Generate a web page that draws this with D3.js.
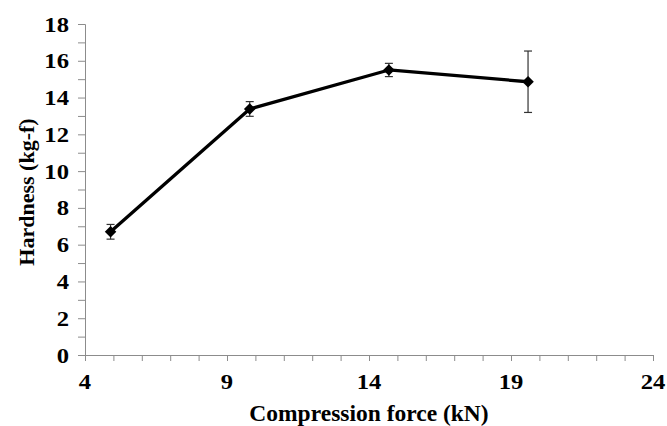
<!DOCTYPE html>
<html>
<head>
<meta charset="utf-8">
<script src="https://cdn.jsdelivr.net/npm/d3@7"></script>
<style>
  body { margin: 0; background: #fff; }
  svg text { font-family: "Liberation Serif", "Times New Roman", serif; font-weight: bold; fill: #000; }
</style>
</head>
<body>
<div id="chart"></div>
<script>
// compression force (kN) and tablet hardness (kg-f) with SD
forces = [4.9, 9.8, 14.7, 19.6]
hardness = [6.7, 13.38, 15.5, 14.86]
errors = [0.4, 0.4, 0.36, 1.67]
xTicks = [4, 9, 14, 19, 24]
yTicks = [0, 2, 4, 6, 8, 10, 12, 14, 16, 18]

const W = 667, H = 426
const margin = { left: 85, right: 14, top: 24, bottom: 71 }

const x = d3.scaleLinear().domain([4, 24]).range([margin.left, W - margin.right])
const y = d3.scaleLinear().domain([0, 18]).range([H - margin.bottom, margin.top])

const svg = d3.select('#chart').append('svg')
  .attr('width', W)
  .attr('height', H)

const axisColor = '#8c8c8c'

// minor ticks every unit on both axes
const xAxis = svg.append('g')
  .attr('transform', `translate(0,${y(0)})`)
  .call(d3.axisBottom(x).tickValues(d3.range(4, 25, 1)).tickSize(6).tickFormat(''))
xAxis.selectAll('path, line').attr('stroke', axisColor)

const yAxis = svg.append('g')
  .attr('transform', `translate(${x(4)},0)`)
  .call(d3.axisLeft(y).tickValues(d3.range(0, 19, 1)).tickSize(7).tickFormat(''))
yAxis.selectAll('path, line').attr('stroke', axisColor)

// tick labels, slightly wide like the original export
svg.append('g').selectAll('text')
  .data(xTicks)
  .enter().append('text')
    .attr('transform', d => `translate(${x(d)},${y(0) + 34}) scale(1.12,1)`)
    .attr('text-anchor', 'middle')
    .attr('font-size', 22)
    .text(d => d)

svg.append('g').selectAll('text')
  .data(yTicks)
  .enter().append('text')
    .attr('transform', d => `translate(${x(4) - 16},${y(d) + 7.5}) scale(1.12,1)`)
    .attr('text-anchor', 'end')
    .attr('font-size', 22)
    .text(d => d)

// axis titles
svg.append('text')
  .attr('x', (x(4) + x(24)) / 2)
  .attr('y', 421)
  .attr('text-anchor', 'middle')
  .attr('font-size', 23.5)
  .text('Compression force (kN)')

svg.append('text')
  .attr('transform', `translate(34,192) rotate(-90)`)
  .attr('text-anchor', 'middle')
  .attr('font-size', 22)
  .text('Hardness (kg-f)')

const data = forces.map((f, i) => ({ f: f, h: hardness[i], e: errors[i] }))

// error bars
const err = svg.append('g').attr('stroke', '#333').attr('stroke-width', 1.2)
err.selectAll('line.v')
  .data(data)
  .enter().append('line')
    .attr('x1', d => x(d.f)).attr('x2', d => x(d.f))
    .attr('y1', d => y(d.h - d.e)).attr('y2', d => y(d.h + d.e))
err.selectAll('line.top')
  .data(data)
  .enter().append('line')
    .attr('x1', d => x(d.f) - 4).attr('x2', d => x(d.f) + 4)
    .attr('y1', d => y(d.h + d.e)).attr('y2', d => y(d.h + d.e))
err.selectAll('line.bot')
  .data(data)
  .enter().append('line')
    .attr('x1', d => x(d.f) - 4).attr('x2', d => x(d.f) + 4)
    .attr('y1', d => y(d.h - d.e)).attr('y2', d => y(d.h - d.e))

// the series line
svg.append('path')
  .datum(data)
  .attr('fill', 'none')
  .attr('stroke', '#000')
  .attr('stroke-width', 3.3)
  .attr('stroke-linejoin', 'round')
  .attr('d', d3.line().x(d => x(d.f)).y(d => y(d.h)))

// diamond markers
svg.append('g').selectAll('path')
  .data(data)
  .enter().append('path')
    .attr('transform', d => `translate(${x(d.f)},${y(d.h)})`)
    .attr('d', d3.symbol().type(d3.symbolDiamond2).size(85))
    .attr('fill', '#000')
</script>
</body>
</html>
